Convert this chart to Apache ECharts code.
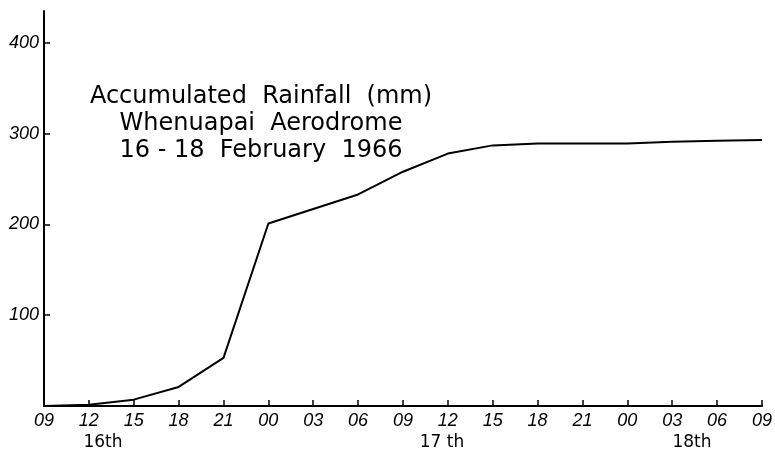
<!DOCTYPE html>
<html>
<head>
<meta charset="utf-8">
<script src="https://cdn.jsdelivr.net/npm/echarts@6/dist/echarts.min.js"></script>
<style>
  html, body { margin: 0; padding: 0; background: #fff; }
  #chart { width: 775px; height: 456px; }
</style>
</head>
<body>
<div id="chart"></div>
<script>
// hours after 09:00 on the 16th, 3-hourly readings
var hours = [0, 3, 6, 9, 12, 15, 18, 21, 24, 27, 30, 33, 36, 39, 42, 45, 48];
// accumulated rainfall (mm)
var rainfall = [0, 1.5, 7, 21, 53, 201, 217, 233, 258, 278, 287, 289, 289, 289, 291, 292, 293];
var yTicks = [100, 200, 300, 400];
var dayLabels = [
  { text: '16th', x: 103 },
  { text: '17 th', x: 442 },
  { text: '18th', x: 692 }
];
var titleLines = ['Accumulated  Rainfall  (mm)', 'Whenuapai  Aerodrome', '16 - 18  February  1966'];

var chart = echarts.init(document.getElementById('chart'));

var points = hours.map(function (h, i) { return [h, rainfall[i]]; });

var graphics = dayLabels.map(function (d) {
  return {
    type: 'text', x: d.x, y: 434,
    style: {
      text: d.text, font: '17px "DejaVu Sans"', fill: '#000',
      align: 'center', verticalAlign: 'top'
    }
  };
});
graphics.push({
  type: 'text', x: 261, y: 83,
  style: {
    text: titleLines.join('\n'),
    font: '24px "DejaVu Sans"',
    lineHeight: 27,
    align: 'center',
    verticalAlign: 'top',
    fill: '#000'
  }
});

chart.setOption({
  animation: false,
  backgroundColor: '#fff',
  grid: { left: 44, right: 11, top: 11, bottom: 50, containLabel: false },
  xAxis: {
    type: 'value',
    min: 0, max: 48, interval: 3,
    axisLine: { lineStyle: { color: '#000', width: 2 } },
    axisTick: { inside: true, length: 6, lineStyle: { color: '#000', width: 1.5 } },
    splitLine: { show: false },
    axisLabel: {
      color: '#000', fontSize: 18, fontStyle: 'italic',
      fontFamily: 'Liberation Sans', margin: 6,
      formatter: function (v) {
        var h = (v + 9) % 24;
        return (h < 10 ? '0' : '') + h;
      }
    }
  },
  yAxis: {
    type: 'value',
    min: 0, max: 435, interval: 100,
    axisLine: { show: true, lineStyle: { color: '#000', width: 2 } },
    axisTick: {
      show: true, inside: true, length: 6,
      customValues: yTicks,
      lineStyle: { color: '#000', width: 1.5 }
    },
    splitLine: { show: false },
    axisLabel: {
      color: '#000', fontSize: 18, fontStyle: 'italic',
      fontFamily: 'Liberation Sans', margin: 5,
      customValues: yTicks
    }
  },
  graphic: graphics,
  series: [{
    type: 'line',
    data: points,
    symbol: 'none',
    lineStyle: { color: '#000', width: 2 }
  }]
});
</script>
</body>
</html>
